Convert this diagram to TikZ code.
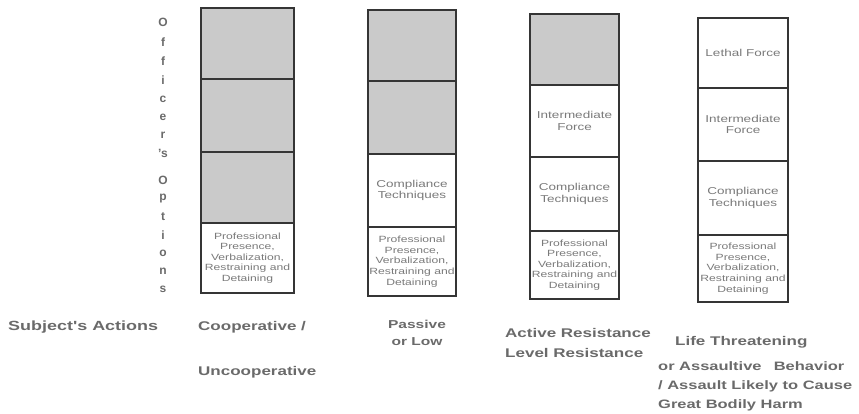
\documentclass[tikz,border=0pt]{standalone}
\usepackage{fontspec}
\setmainfont{Liberation Sans}
\newfontfamily\widesans[FakeStretch=1.35]{Liberation Sans}
\definecolor{boxline}{HTML}{353535}
\definecolor{boxfill}{HTML}{CACACA}
\definecolor{inktext}{HTML}{6A6A6A}
\definecolor{celltext}{HTML}{7A7A7A}
\begin{document}
\begin{tikzpicture}[x=1pt,y=-1pt,
  cellbox/.style={draw=boxline, line width=2.6pt, inner sep=0pt, align=center,
    text=celltext, font=\widesans\fontsize{10}{11.5}\selectfont},
  shaded/.style={cellbox, fill=boxfill},
  plain/.style={cellbox, fill=white},
  profcell/.style={cellbox, fill=white, font=\widesans\fontsize{9}{10.6}\selectfont},
  label/.style={text=inktext, font=\widesans\bfseries\fontsize{12.6}{19.5}\selectfont, inner sep=0pt, anchor=west, align=left},
  vlabel/.style={text=inktext, font=\bfseries\fontsize{12}{12}\selectfont, inner sep=0pt}
]
\useasboundingbox (0,0) rectangle (859,413);

% column 1
\node[shaded, minimum width=93pt, minimum height=71pt] (c1a) at (247.5,43.5) {};
\node[shaded, minimum width=93pt, minimum height=73pt] (c1b) at (247.5,115.5) {};
\node[shaded, minimum width=93pt, minimum height=71pt] (c1c) at (247.5,187.5) {};
\node[profcell, minimum width=93pt, minimum height=70pt] (c1d) at (247.5,258) {Professional\\Presence,\\Verbalization,\\Restraining and\\Detaining};

% column 2
\node[shaded, minimum width=88pt, minimum height=71pt] (c2a) at (412,45.5) {};
\node[shaded, minimum width=88pt, minimum height=73pt] (c2b) at (412,117.5) {};
\node[plain, minimum width=88pt, minimum height=73pt] (c2c) at (412,190.5) {Compliance\\Techniques};
\node[profcell, minimum width=88pt, minimum height=69pt] (c2d) at (412,261.5) {Professional\\Presence,\\Verbalization,\\Restraining and\\Detaining};

% column 3
\node[shaded, minimum width=89pt, minimum height=71pt] (c3a) at (574.5,49.5) {};
\node[plain, minimum width=89pt, minimum height=72pt] (c3b) at (574.5,121) {Intermediate\\Force};
\node[plain, minimum width=89pt, minimum height=74pt] (c3c) at (574.5,194) {Compliance\\Techniques};
\node[profcell, minimum width=89pt, minimum height=68pt] (c3d) at (574.5,265) {Professional\\Presence,\\Verbalization,\\Restraining and\\Detaining};

% column 4
\node[plain, minimum width=90pt, minimum height=70pt] (c4a) at (743,53) {Lethal Force};
\node[plain, minimum width=90pt, minimum height=73pt] (c4b) at (743,124.5) {Intermediate\\Force};
\node[plain, minimum width=90pt, minimum height=74pt] (c4c) at (743,198) {Compliance\\Techniques};
\node[profcell, minimum width=90pt, minimum height=67pt] (c4d) at (743,268.5) {Professional\\Presence,\\Verbalization,\\Restraining and\\Detaining};

% vertical label
\node[vlabel] (v1) at (163,22) {O};
\node[vlabel] (v2) at (163,42) {f};
\node[vlabel] (v3) at (163,61) {f};
\node[vlabel] (v4) at (163,80) {i};
\node[vlabel] (v5) at (163,99) {c};
\node[vlabel] (v6) at (163,117) {e};
\node[vlabel] (v7) at (163,135) {r};
\node[vlabel] (v8) at (163,153) {'s};
\node[vlabel] (v9) at (163,180) {O};
\node[vlabel] (v10) at (163,199) {p};
\node[vlabel] (v11) at (163,217) {t};
\node[vlabel] (v12) at (163,235) {i};
\node[vlabel] (v13) at (163,253) {o};
\node[vlabel] (v14) at (163,271) {n};
\node[vlabel] (v15) at (163,289) {s};

% bottom labels
\node[label, font=\widesans\bfseries\fontsize{13.3}{19}\selectfont] (sa) at (8,327) {Subject's Actions};
\node[label] (coop) at (198,327) {Cooperative /};
\node[label] (uncoop) at (198,372) {Uncooperative};
\node[label, align=center, anchor=center, font=\widesans\bfseries\fontsize{11.5}{17}\selectfont] (pass) at (417,333) {Passive\\or Low};
\node[label] (act) at (505,343) {Active Resistance\\Level Resistance};
\node[label] (life) at (675,342) {Life Threatening};
\node[label, font=\widesans\bfseries\fontsize{12.2}{19}\selectfont] (assault) at (658,386) {or Assaultive\quad Behavior\\/ Assault Likely to Cause\\Great Bodily Harm};
\end{tikzpicture}
\end{document}
